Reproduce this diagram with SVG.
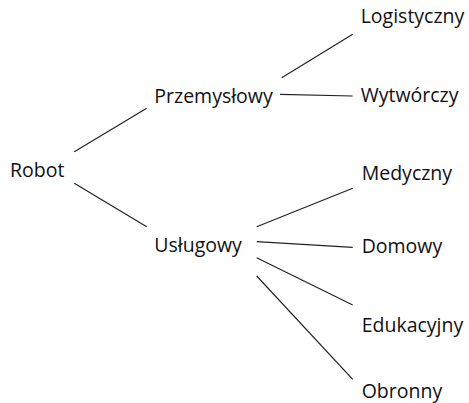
<svg xmlns="http://www.w3.org/2000/svg" width="469" height="403" viewBox="0 0 469 403">
<style>
text{font-family:"Open Sans","Noto Sans",sans-serif;font-size:19.5px;fill:#111}
.c line{stroke:#222;stroke-width:1.2}
</style>
<rect width="469" height="403" fill="#fff"/>
<g class="c" id="connectors">
<line x1="74.3" y1="151.7" x2="146.7" y2="108.3"/>
<line x1="74.3" y1="183.3" x2="146.7" y2="226.7"/>
<line x1="281.7" y1="77.7" x2="352.7" y2="34.3"/>
<line x1="280" y1="94.3" x2="352.7" y2="96"/>
<line x1="256.7" y1="226.7" x2="352.7" y2="188.3"/>
<line x1="256.7" y1="241.7" x2="352.7" y2="247.3"/>
<line x1="256.7" y1="257.7" x2="352.7" y2="305"/>
<line x1="256.7" y1="276" x2="352.7" y2="379.3"/>
</g>
<g id="robot"><text x="10" y="176.7">Robot</text></g>
<g id="przemyslowy"><text x="154.3" y="102.7">Przemysłowy</text></g>
<g id="uslugowy"><text x="154.3" y="251.7">Usługowy</text></g>
<g id="logistyczny"><text x="360.7" y="22.7">Logistyczny</text></g>
<g id="wytworczy"><text x="360.7" y="101.7">Wytwórczy</text></g>
<g id="medyczny"><text x="361.7" y="180">Medyczny</text></g>
<g id="domowy"><text x="361.7" y="253.3">Domowy</text></g>
<g id="edukacyjny"><text x="361.7" y="331.7">Edukacyjny</text></g>
<g id="obronny"><text x="361.7" y="398.3">Obronny</text></g>
</svg>
